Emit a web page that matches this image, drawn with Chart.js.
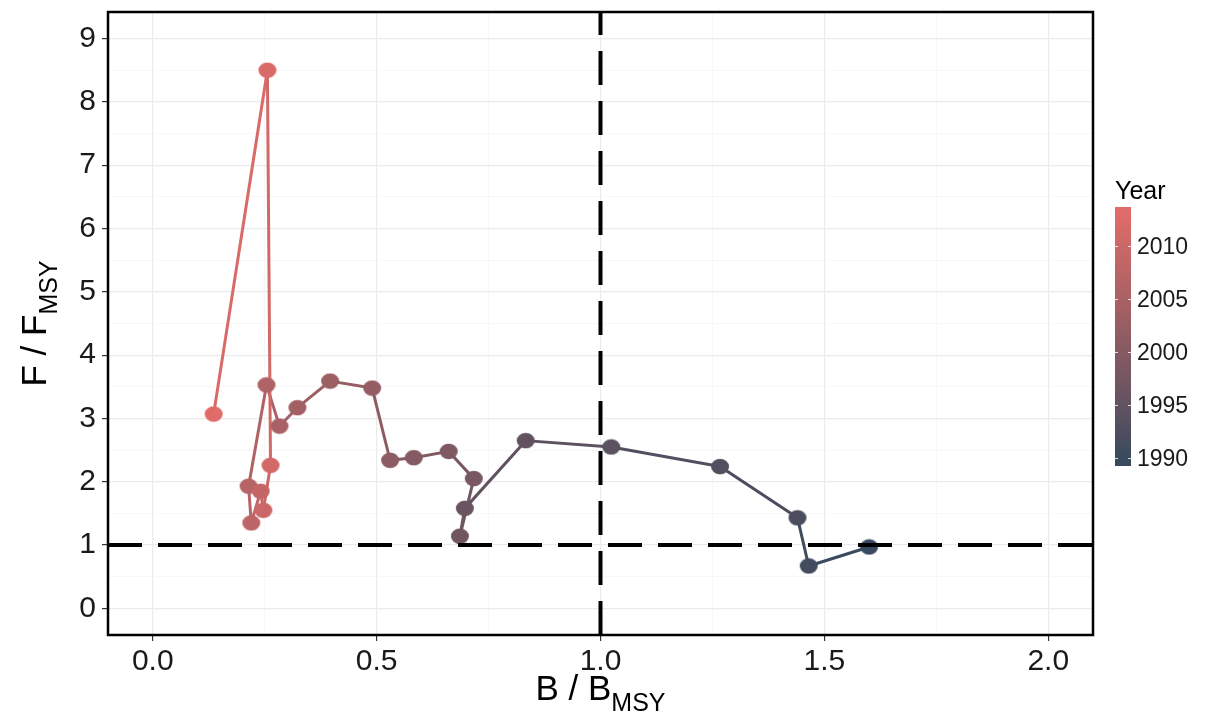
<!DOCTYPE html>
<html>
<head>
<meta charset="utf-8">
<script src="https://cdn.jsdelivr.net/npm/chart.js@4.4.1/dist/chart.umd.min.js"></script>
<style>
  html, body { margin:0; padding:0; background:#fff; }
  #wrap { width:1207px; height:721px; }
</style>
</head>
<body>
<div id="wrap"><canvas id="chart" width="1207" height="721"></canvas></div>
<script>
// kobe path, one point per year
const years  = [1990,1991,1992,1993,1994,1995,1996,1997,1998,1999,2000,2001,
                2002,2003,2004,2005,2006,2007,2008,2009,2010,2011,2012,2013];
const bRatio = [1.60,1.465,1.44,1.267,1.024,0.833,0.697,0.686,0.717,0.661,0.583,0.530,
                0.490,0.396,0.323,0.283,0.254,0.214,0.220,0.241,0.247,0.263,0.256,0.136];
const fRatio = [0.97,0.67,1.43,2.24,2.55,2.65,1.58,1.14,2.05,2.48,2.38,2.34,
                3.48,3.59,3.17,2.88,3.53,1.93,1.35,1.85,1.55,2.26,8.50,3.07];

const refB = 1;   // B/Bmsy = 1
const refF = 1;   // F/Fmsy = 1

const xMajor = [0, 0.5, 1, 1.5, 2];
const xGrid  = [0,0.25,0.5,0.75,1,1.25,1.5,1.75,2];
const yMajor = [0,1,2,3,4,5,6,7,8,9];
const yGrid  = [0,0.5,1,1.5,2,2.5,3,3.5,4,4.5,5,5.5,6,6.5,7,7.5,8,8.5,9];
const legendYears = [1990,1995,2000,2005,2010];

const xLim = [-0.1, 2.1];
const yLim = [-0.42, 9.42];

const FONT = "'Liberation Sans', Arial, sans-serif";
const lowCol  = [58,74,94];
const highCol = [224,107,104];
const yrMin = Math.min(...years), yrMax = Math.max(...years);

// lab interpolation like ggplot's gradient
function toLin(c){ c/=255; return c<=0.04045 ? c/12.92 : Math.pow((c+0.055)/1.055,2.4); }
function fromLin(c){ c = c<=0.0031308 ? 12.92*c : 1.055*Math.pow(c,1/2.4)-0.055; return Math.round(Math.max(0,Math.min(1,c))*255); }
function rgb2lab(c){
  let r=toLin(c[0]), g=toLin(c[1]), b=toLin(c[2]);
  let x=(0.4124*r+0.3576*g+0.1805*b)/0.95047, y=(0.2126*r+0.7152*g+0.0722*b), z=(0.0193*r+0.1192*g+0.9505*b)/1.08883;
  let f=t=> t>0.008856 ? Math.cbrt(t) : 7.787*t+16/116;
  x=f(x); y=f(y); z=f(z);
  return [116*y-16, 500*(x-y), 200*(y-z)];
}
function lab2rgb(l){
  let y=(l[0]+16)/116, x=l[1]/500+y, z=y-l[2]/200;
  let fi=t=> t*t*t>0.008856 ? t*t*t : (t-16/116)/7.787;
  x=fi(x)*0.95047; y=fi(y); z=fi(z)*1.08883;
  let r= 3.2406*x-1.5372*y-0.4986*z, g=-0.9689*x+1.8758*y+0.0415*z, b=0.0557*x-0.2040*y+1.0570*z;
  return [fromLin(r),fromLin(g),fromLin(b)];
}
const labLo = rgb2lab(lowCol), labHi = rgb2lab(highCol);
function yearColor(yr){
  let t = Math.max(0, Math.min(1, (yr-yrMin)/(yrMax-yrMin)));
  let c = lab2rgb(labLo.map((v,i)=>v+(labHi[i]-v)*t));
  return `rgb(${c[0]},${c[1]},${c[2]})`;
}

// slightly wide dots, as in the original
const dotCache = {};
function dot(col){
  if(dotCache[col]) return dotCache[col];
  let c = document.createElement('canvas');
  c.width = 20; c.height = 17;
  let g = c.getContext('2d');
  g.fillStyle = col;
  g.beginPath(); g.ellipse(10,8.5,9,7.8,0,0,Math.PI*2); g.fill();
  dotCache[col] = c;
  return c;
}

const pathData = years.map((y,i)=>({x:bRatio[i], y:fRatio[i]}));

const overlay = {
  id:'overlay',
  afterDatasetsDraw(chart){
    const {ctx, chartArea:a} = chart;
    ctx.save();
    ctx.strokeStyle = '#000';
    ctx.lineWidth = 2.5;
    ctx.strokeRect(a.left, a.top, a.right-a.left, a.bottom-a.top);
    ctx.restore();
  },
  afterDraw(chart){
    const {ctx, chartArea:a} = chart;
    ctx.save();
    ctx.fillStyle = '#000';
    ctx.textBaseline = 'alphabetic';
    // axis titles with subscript
    const sz = 35, subSz = 25;
    function parts(main){
      ctx.font = `${sz}px ${FONT}`;
      let w1 = ctx.measureText(main+' / '+main).width;
      ctx.font = `${subSz}px ${FONT}`;
      let w2 = ctx.measureText('MSY').width;
      return {w1, w: w1+w2};
    }
    let m = parts('B');
    let x0 = (a.left+a.right)/2 - m.w/2;
    ctx.textAlign = 'left';
    ctx.font = `${sz}px ${FONT}`;
    ctx.fillText('B / B', x0, 700);
    ctx.font = `${subSz}px ${FONT}`;
    ctx.fillText('MSY', x0+m.w1, 711);

    m = parts('F');
    ctx.translate(46, (a.top+a.bottom)/2);
    ctx.rotate(-Math.PI/2);
    x0 = -m.w/2;
    ctx.font = `${sz}px ${FONT}`;
    ctx.fillText('F / F', x0, 0);
    ctx.font = `${subSz}px ${FONT}`;
    ctx.fillText('MSY', x0+m.w1, 11);
    ctx.setTransform(1,0,0,1,0,0);

    // colour bar legend
    const barX = 1115, barW = 16, barTop = 207, barBot = 466;
    const yrTop = 2013.68, yrBot = 1989.25;
    const yOf = yr => barBot - (yr-yrBot)/(yrTop-yrBot)*(barBot-barTop);
    for(let y=barTop; y<barBot; y++){
      let yr = yrBot + (barBot-y-0.5)/(barBot-barTop)*(yrTop-yrBot);
      ctx.fillStyle = yearColor(yr);
      ctx.fillRect(barX, y, barW, 1);
    }
    ctx.strokeStyle = 'rgba(255,255,255,0.8)';
    ctx.lineWidth = 1;
    ctx.fillStyle = '#1a1a1a';
    ctx.font = `23px ${FONT}`;
    ctx.textBaseline = 'middle';
    legendYears.forEach(yr=>{
      let y = Math.round(yOf(yr))+0.5;
      ctx.beginPath();
      ctx.moveTo(barX, y); ctx.lineTo(barX+3, y);
      ctx.moveTo(barX+barW-3, y); ctx.lineTo(barX+barW, y);
      ctx.stroke();
      ctx.fillText(String(yr), barX+barW+6, y+1);
    });
    ctx.fillStyle = '#000';
    ctx.font = `25px ${FONT}`;
    ctx.textBaseline = 'alphabetic';
    ctx.fillText('Year', barX, 199);
    ctx.restore();
  }
};

new Chart(document.getElementById('chart'), {
  type:'scatter',
  data:{
    datasets:[
      {
        data:[{x:refB,y:yLim[0]},{x:refB,y:yLim[1]}],
        showLine:true, borderColor:'#000', borderWidth:4, borderDash:[34,16],
        pointRadius:0
      },
      {
        data:[{x:xLim[0],y:refF},{x:xLim[1],y:refF}],
        showLine:true, borderColor:'#000', borderWidth:4, borderDash:[34,16],
        pointRadius:0
      },
      {
        data:pathData,
        showLine:true,
        borderWidth:3,
        borderColor: yearColor(yrMin),
        segment:{ borderColor: c => yearColor(years[c.p0DataIndex]) },
        pointStyle: c => dot(yearColor(years[c.dataIndex] ?? yrMin)),
        pointRadius:9
      }
    ]
  },
  options:{
    responsive:false,
    animation:false,
    events:[],
    layout:{ padding:{ left:0, right:114, top:8, bottom:0 } },
    plugins:{ legend:{display:false}, tooltip:{enabled:false} },
    scales:{
      x:{
        type:'linear', min:xLim[0], max:xLim[1],
        afterBuildTicks: s => { s.ticks = xGrid.map(v=>({value:v})); },
        afterFit: s => { s.height = 86; s.paddingLeft = 0; s.paddingRight = 0; },
        border:{display:false},
        grid:{
          color: c => xMajor.includes(c.tick.value) ? '#ebebeb' : '#f5f5f5',
          lineWidth: c => xMajor.includes(c.tick.value) ? 1.2 : 0.8,
          tickColor: c => xMajor.includes(c.tick.value) ? '#333' : 'rgba(0,0,0,0)',
          tickLength:6
        },
        ticks:{
          autoSkip:false, maxRotation:0, padding:3, color:'#1a1a1a',
          font:{ family:FONT, size:30 },
          callback: v => xMajor.includes(v) ? v.toFixed(1) : ''
        }
      },
      y:{
        type:'linear', min:yLim[0], max:yLim[1],
        afterBuildTicks: s => { s.ticks = yGrid.map(v=>({value:v})); },
        afterFit: s => { s.width = 108; s.paddingTop = 0; s.paddingBottom = 0; },
        border:{display:false},
        grid:{
          color: c => yMajor.includes(c.tick.value) ? '#ebebeb' : '#f5f5f5',
          lineWidth: c => yMajor.includes(c.tick.value) ? 1.2 : 0.8,
          tickColor: c => yMajor.includes(c.tick.value) ? '#333' : 'rgba(0,0,0,0)',
          tickLength:6
        },
        ticks:{
          autoSkip:false, padding:6, color:'#1a1a1a',
          font:{ family:FONT, size:30 },
          callback: v => yMajor.includes(v) ? String(v) : ''
        }
      }
    }
  },
  plugins:[overlay]
});
</script>
</body>
</html>
